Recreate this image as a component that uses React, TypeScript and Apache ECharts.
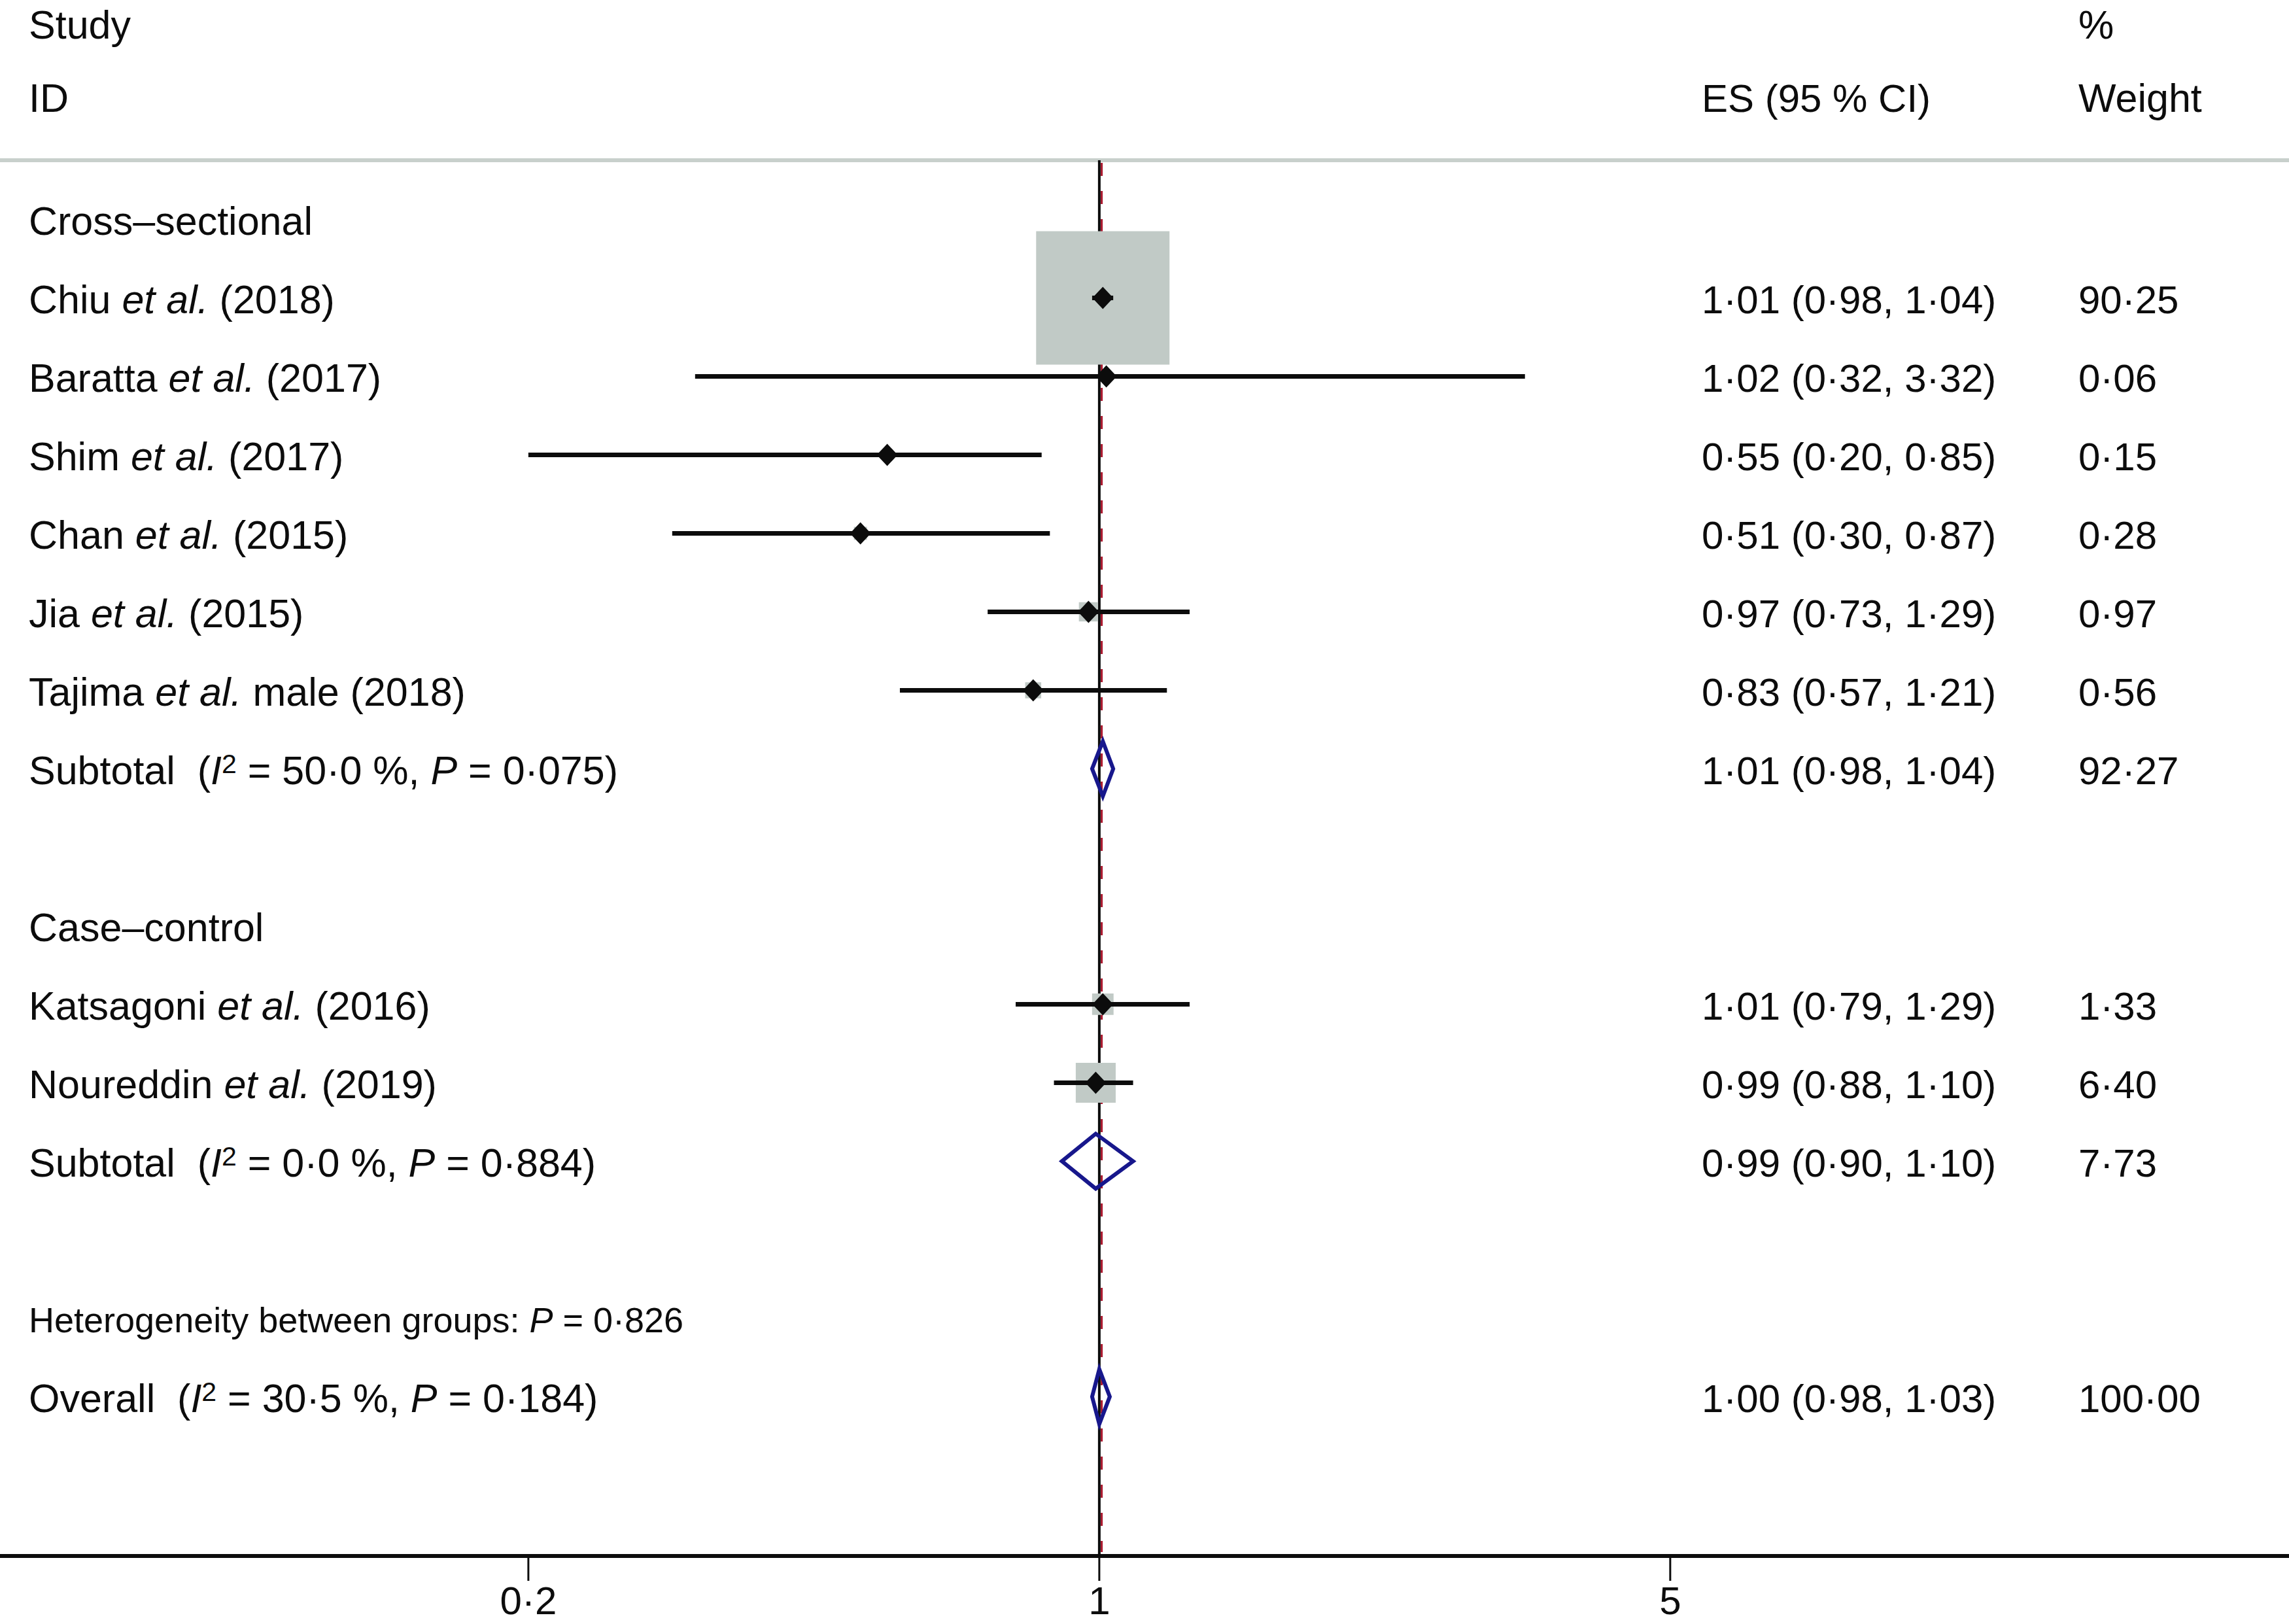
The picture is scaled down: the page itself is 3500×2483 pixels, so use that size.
import React, { useEffect, useRef } from "react";
import * as echarts from "echarts";

// ---------------- data ----------------
const groupLabels = ["Cross–sectional", "Case–control"];
const groupRows = [0, 9];

const studyNames = ["Chiu", "Baratta", "Shim", "Chan", "Jia", "Tajima", "Katsagoni", "Noureddin"];
const studySuffix = ["", "", "", "", "", " male", "", ""];
const studyYears = ["2018", "2017", "2017", "2015", "2015", "2018", "2016", "2019"];
const studyRows = [1, 2, 3, 4, 5, 6, 10, 11];
const studyES = [1.01, 1.02, 0.55, 0.51, 0.97, 0.83, 1.01, 0.99];
const studyLo = [0.98, 0.32, 0.2, 0.3, 0.73, 0.57, 0.79, 0.88];
const studyHi = [1.04, 3.32, 0.85, 0.87, 1.29, 1.21, 1.29, 1.1];
const studyWeight = [90.25, 0.06, 0.15, 0.28, 0.97, 0.56, 1.33, 6.4];

const pooledNames = ["Subtotal", "Subtotal", "Overall"];
const pooledI2 = ["50·0", "0·0", "30·5"];
const pooledP = ["0·075", "0·884", "0·184"];
const pooledRows = [7, 12, 15];
const pooledES = [1.01, 0.99, 1.0];
const pooledLo = [0.98, 0.9, 0.98];
const pooledHi = [1.04, 1.1, 1.03];
const pooledWeight = [92.27, 7.73, 100.0];

const hetText = "Heterogeneity between groups: ";
const hetP = "0·826";
const hetRow = 14;

const nullValue = 1;
const overallLineValue = 1.005;

const tickValues = [0.2, 1, 5];
const tickLabels = ["0·2", "1", "5"];

// ---------------- layout / style ----------------
const W = 3500;
const H = 2483;
const GRID_TOP = 245;
const AXIS_Y = 2379;
const X_MIN = 0.0451;
const X_MAX = 28.61;
const Y_MIN = -0.754;
const Y_MAX = 17.03;
const FONT = "'Liberation Sans', Arial, Helvetica, sans-serif";
const FS = 61;
const FS_NUM = 60;
const FS_SMALL = 54;
const INK = "#0c0c0c";
const BOX = "#c1cac6";
const NAVY = "#17178c";
const RED = "#a8162c";
const COL_LEFT = 44;
const COL_ES = 2602;
const COL_W = 3178;

const fmt = (v: number) => v.toFixed(2).replace(".", "·");

function richStyles(size: number) {
  return {
    n: { fontSize: size, fontFamily: FONT, fill: INK },
    i: { fontSize: size, fontFamily: FONT, fontStyle: "italic", fill: INK },
    sup: { fontSize: Math.round(size * 0.68), fontFamily: FONT, fill: INK, verticalAlign: "top" },
  };
}

function textEl(text: string, x: number, y: number, size: number, align = "left") {
  return {
    type: "text",
    style: {
      text,
      x,
      y,
      fill: INK,
      fontSize: size,
      fontFamily: FONT,
      align,
      textAlign: align,
      verticalAlign: "middle",
      textVerticalAlign: "middle",
      rich: richStyles(size),
    },
  };
}

// table rows (text) built from the arrays
type TRow = { row: number; left: string; es: string; w: string; size: number };
const tableRows: TRow[] = [];
groupLabels.forEach((g, k) => tableRows.push({ row: groupRows[k], left: `{n|${g}}`, es: "", w: "", size: FS }));
studyNames.forEach((s, k) =>
  tableRows.push({
    row: studyRows[k],
    left: `{n|${s} }{i|et al.}{n|${studySuffix[k]} (${studyYears[k]})}`,
    es: `${fmt(studyES[k])} (${fmt(studyLo[k])}, ${fmt(studyHi[k])})`,
    w: fmt(studyWeight[k]),
    size: FS,
  })
);
pooledNames.forEach((s, k) =>
  tableRows.push({
    row: pooledRows[k],
    left: `{n|${s}  (}{i|I}{sup|2}{n| = ${pooledI2[k]} %, }{i|P}{n| = ${pooledP[k]})}`,
    es: `${fmt(pooledES[k])} (${fmt(pooledLo[k])}, ${fmt(pooledHi[k])})`,
    w: fmt(pooledWeight[k]),
    size: FS,
  })
);
tableRows.push({ row: hetRow, left: `{n|${hetText}}{i|P}{n| = ${hetP}}`, es: "", w: "", size: FS_SMALL });

export default function App() {
  const ref = useRef<HTMLDivElement>(null);

  useEffect(() => {
    if (!ref.current) return;
    const chart = echarts.init(ref.current, undefined, { renderer: "svg" });

    const option: any = {
      animation: false,
      backgroundColor: "#ffffff",
      grid: { left: 0, right: 0, top: GRID_TOP, bottom: H - AXIS_Y, containLabel: false },
      xAxis: {
        type: "log",
        position: "bottom",
        min: X_MIN,
        max: X_MAX,
        axisLine: { show: true, onZero: false, lineStyle: { color: INK, width: 6 } },
        axisTick: { show: false },
        axisLabel: { show: false },
        splitLine: { show: false },
      },
      yAxis: {
        type: "value",
        inverse: true,
        min: Y_MIN,
        max: Y_MAX,
        show: false,
      },
      graphic: [
        { type: "line", shape: { x1: 0, y1: GRID_TOP, x2: W, y2: GRID_TOP }, style: { stroke: "#c8d0cc", lineWidth: 6 }, z: 1 },
        textEl("Study", COL_LEFT, 38, FS),
        textEl("ID", COL_LEFT, 150, FS),
        textEl("%", COL_W, 38, FS),
        textEl("ES (95 % CI)", COL_ES, 150, FS_NUM),
        textEl("Weight", COL_W, 150, FS),
      ],
      series: [
        // reference lines
        {
          type: "custom",
          z: 1,
          clip: false,
          data: [[nullValue, 0], [overallLineValue, 1]],
          encode: { x: 0 },
          renderItem: (params: any, api: any) => {
            const v = api.value(0);
            const kind = api.value(1);
            const top = api.coord([v, Y_MIN]);
            const bot = api.coord([v, Y_MAX]);
            if (kind === 0) {
              return { type: "line", shape: { x1: top[0], y1: top[1], x2: bot[0], y2: bot[1] - 3 }, style: { stroke: INK, lineWidth: 4 } };
            }
            return {
              type: "line",
              shape: { x1: top[0] + 1, y1: top[1] + 4, x2: bot[0] + 1, y2: bot[1] - 6 },
              style: { stroke: RED, lineWidth: 3, lineDash: [20, 23] },
            };
          },
        },
        // studies
        {
          type: "custom",
          z: 3,
          clip: false,
          data: studyES.map((es, k) => [es, studyRows[k], studyLo[k], studyHi[k], studyWeight[k]]),
          encode: { x: 0, y: 1 },
          renderItem: (params: any, api: any) => {
            const es = api.value(0);
            const row = api.value(1);
            const c = api.coord([es, row]);
            const l = api.coord([api.value(2), row]);
            const h = api.coord([api.value(3), row]);
            const side = 9.2 + 20.5 * Math.sqrt(api.value(4));
            return {
              type: "group",
              children: [
                { type: "rect", shape: { x: c[0] - side / 2, y: c[1] - side / 2, width: side, height: side }, style: { fill: BOX } },
                { type: "line", shape: { x1: l[0], y1: c[1], x2: h[0], y2: c[1] }, style: { stroke: INK, lineWidth: 7 } },
                {
                  type: "polygon",
                  shape: { points: [[c[0] - 16, c[1]], [c[0], c[1] - 17], [c[0] + 16, c[1]], [c[0], c[1] + 17]] },
                  style: { fill: INK },
                },
              ],
            };
          },
        },
        // pooled diamonds
        {
          type: "custom",
          z: 3,
          clip: false,
          data: pooledES.map((es, k) => [es, pooledRows[k], pooledLo[k], pooledHi[k]]),
          encode: { x: 0, y: 1 },
          renderItem: (params: any, api: any) => {
            const row = api.value(1);
            const c = api.coord([api.value(0), row]);
            const l = api.coord([api.value(2), row]);
            const h = api.coord([api.value(3), row]);
            return {
              type: "polygon",
              shape: { points: [[l[0], c[1]], [c[0], c[1] - 42], [h[0], c[1]], [c[0], c[1] + 42]] },
              style: { fill: "none", stroke: NAVY, lineWidth: 6, lineJoin: "miter" },
            };
          },
        },
        // axis ticks + labels
        {
          type: "custom",
          z: 4,
          clip: false,
          data: tickValues.map((v) => [v, Y_MAX]),
          encode: { x: 0, y: 1 },
          renderItem: (params: any, api: any) => {
            const p = api.coord([api.value(0), api.value(1)]);
            return {
              type: "group",
              children: [
                { type: "line", shape: { x1: p[0], y1: p[1] + 2, x2: p[0], y2: p[1] + 38 }, style: { stroke: INK, lineWidth: 3 } },
                {
                  type: "text",
                  style: {
                    text: tickLabels[params.dataIndex],
                    x: p[0],
                    y: p[1] + 68,
                    fill: INK,
                    fontSize: FS_NUM,
                    fontFamily: FONT,
                    align: "center",
                    textAlign: "center",
                    verticalAlign: "middle",
                    textVerticalAlign: "middle",
                  },
                },
              ],
            };
          },
        },
        // text table
        {
          type: "custom",
          z: 5,
          clip: false,
          data: tableRows.map((r) => [1, r.row]),
          encode: { x: 0, y: 1 },
          renderItem: (params: any, api: any) => {
            const r = tableRows[params.dataIndex];
            const y = api.coord([1, api.value(1)])[1] + 3;
            const kids: any[] = [textEl(r.left, COL_LEFT, y, r.size)];
            if (r.es) kids.push(textEl(r.es, COL_ES, y, FS_NUM));
            if (r.w) kids.push(textEl(r.w, COL_W, y, FS_NUM));
            return { type: "group", children: kids };
          },
        },
      ],
    };

    chart.setOption(option);
    return () => chart.dispose();
  }, []);

  return (
    <div
      ref={ref}
      style={{ position: "fixed", left: 0, top: 0, width: W, height: H, background: "#ffffff" }}
    />
  );
}
